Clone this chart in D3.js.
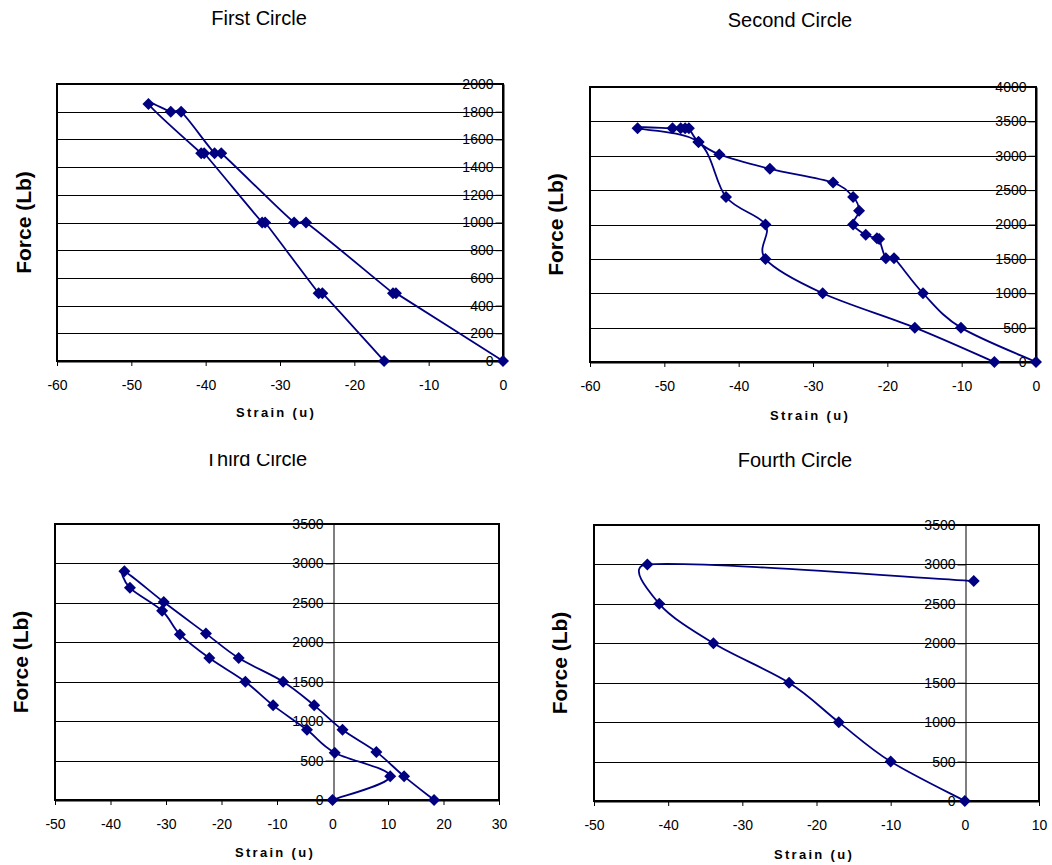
<!DOCTYPE html>
<html>
<head>
<meta charset="utf-8">
<script src="https://cdn.jsdelivr.net/npm/d3@7"></script>
<style>
  html, body { margin: 0; padding: 0; background: #fff; }
  svg { display: block; font-family: "Liberation Sans", Arial, sans-serif; }
</style>
</head>
<body>
<svg id="chart" width="1052" height="865"></svg>
<script>
// ---- Load cycle readings: strain (u) vs applied force (Lb), in recorded order ----

// First cycle
const strain1 = [0, -14.4, -14.8, -26.5, -28.1, -37.9, -38.8, -43.3, -44.7, -47.7, -40.6, -40.2, -32.4, -32.0, -24.8, -24.3, -16.0];
const force1  = [0, 490, 490, 1000, 1000, 1500, 1500, 1800, 1800, 1855, 1500, 1500, 1000, 1000, 490, 490, 0];

// Second cycle
const strain2 = [0, -10.1, -15.2, -19.1, -20.2, -21.1, -21.4, -22.9, -24.6, -23.8, -24.6, -27.3, -35.8, -42.6, -45.4, -46.7, -47.2, -47.8, -48.9, -53.6, -45.4, -41.7, -36.4, -36.4, -28.7, -16.3, -5.6];
const force2  = [0, 500, 1000, 1510, 1510, 1790, 1800, 1850, 2000, 2200, 2400, 2610, 2810, 3020, 3200, 3400, 3400, 3400, 3400, 3400, 3200, 2400, 2000, 1500, 1000, 500, 0];

// Third cycle
const strain3 = [0, 10.4, 0.4, -4.6, -10.7, -15.7, -22.2, -27.5, -30.7, -36.5, -37.5, -30.4, -22.8, -16.9, -8.9, -3.3, 1.8, 7.9, 12.9, 18.3];
const force3  = [0, 300, 600, 890, 1200, 1500, 1800, 2100, 2400, 2690, 2900, 2510, 2110, 1800, 1500, 1200, 890, 610, 300, 0];

// Fourth cycle
const strain4 = [0, -10.0, -17.0, -23.7, -33.9, -41.2, -42.8, 1.2];
const force4  = [0, 500, 1000, 1500, 2000, 2500, 3000, 2790];

// Axis ticks
const xTicks1 = [-60, -50, -40, -30, -20, -10, 0];
const yTicks1 = [0, 200, 400, 600, 800, 1000, 1200, 1400, 1600, 1800, 2000];
const xTicks2 = [-60, -50, -40, -30, -20, -10, 0];
const yTicks2 = [0, 500, 1000, 1500, 2000, 2500, 3000, 3500, 4000];
const xTicks3 = [-50, -40, -30, -20, -10, 0, 10, 20, 30];
const yTicks3 = [0, 500, 1000, 1500, 2000, 2500, 3000, 3500];
const xTicks4 = [-50, -40, -30, -20, -10, 0, 10];
const yTicks4 = [0, 500, 1000, 1500, 2000, 2500, 3000, 3500];

const titles = ["First Circle", "Second Circle", "Third Circle", "Fourth Circle"];
const xTitle = "Strain (u)";
const yTitle = "Force (Lb)";

// ---- Layout of the four chart panels ----
const panels = [
  { title: titles[0], strain: strain1, force: force1, xTicks: xTicks1, yTicks: yTicks1,
    box: { l: 57, r: 503, t: 84, b: 361 }, titleX: 259, titleY: 25, yLabX: 23, xLabX: 276, xLabY: 417 },
  { title: titles[1], strain: strain2, force: force2, xTicks: xTicks2, yTicks: yTicks2,
    box: { l: 590, r: 1036, t: 87, b: 362 }, titleX: 790, titleY: 27, yLabX: 555, xLabX: 810, xLabY: 420 },
  { title: titles[2], strain: strain3, force: force3, xTicks: xTicks3, yTicks: yTicks3,
    box: { l: 55, r: 499, t: 524, b: 800 }, titleX: 256, titleY: 466, yLabX: 20, xLabX: 275, xLabY: 857,
    titleClipTop: 454 },
  { title: titles[3], strain: strain4, force: force4, xTicks: xTicks4, yTicks: yTicks4,
    box: { l: 594, r: 1039, t: 525, b: 801 }, titleX: 795, titleY: 467, yLabX: 559, xLabX: 814, xLabY: 859 }
];

const navy = "#000080";
const svg = d3.select("#chart");
const defs = svg.append("defs");

const diamond = r => `M0,${-r}L${r},0L0,${r}L${-r},0Z`;
const crisp = v => Math.round(v) + 0.5;

// Smoothed spreadsheet-style line: Catmull-Rom tangents (1/6 of the neighbour
// chord), with each control handle capped to a share of its own segment so
// short segments next to long ones do not loop out too far.
function curveSmoothCapped(context) {
  let pts = [];
  const cap = 0.5;
  return {
    areaStart() {}, areaEnd() {},
    lineStart() { pts = []; },
    point(x, y) { pts.push([+x, +y]); },
    lineEnd() {
      const n = pts.length;
      if (!n) return;
      context.moveTo(pts[0][0], pts[0][1]);
      const tan = pts.map((p, i) => {
        const a = pts[Math.max(0, i - 1)], b = pts[Math.min(n - 1, i + 1)];
        return [(b[0] - a[0]) / 6, (b[1] - a[1]) / 6];
      });
      const limit = (t, len) => {
        const m = Math.hypot(t[0], t[1]);
        const s = m > cap * len && m > 0 ? (cap * len) / m : 1;
        return [t[0] * s, t[1] * s];
      };
      for (let i = 0; i < n - 1; i++) {
        const p0 = pts[i], p1 = pts[i + 1];
        const len = Math.hypot(p1[0] - p0[0], p1[1] - p0[1]);
        const t0 = limit(tan[i], len), t1 = limit(tan[i + 1], len);
        context.bezierCurveTo(p0[0] + t0[0], p0[1] + t0[1],
                              p1[0] - t1[0], p1[1] - t1[1],
                              p1[0], p1[1]);
      }
    }
  };
}

panels.forEach((p, i) => {
  const g = svg.append("g").attr("class", "panel-" + (i + 1));
  const x = d3.scaleLinear().domain(d3.extent(p.xTicks)).range([p.box.l, p.box.r]);
  const y = d3.scaleLinear().domain(d3.extent(p.yTicks)).range([p.box.b, p.box.t]);

  // Title
  const title = g.append("text")
    .attr("x", p.titleX).attr("y", p.titleY)
    .attr("text-anchor", "middle")
    .attr("font-size", 20)
    .attr("fill", "#000")
    .text(p.title);
  if (p.titleClipTop !== undefined) {
    const id = "title-clip-" + i;
    defs.append("clipPath").attr("id", id)
      .append("rect").attr("x", 0).attr("y", p.titleClipTop).attr("width", 526).attr("height", 40);
    title.attr("clip-path", `url(#${id})`);
  }

  // Horizontal gridlines
  g.append("g").selectAll("line")
    .data(p.yTicks.slice(1, -1))
    .join("line")
    .attr("x1", p.box.l).attr("x2", p.box.r)
    .attr("y1", d => crisp(y(d))).attr("y2", d => crisp(y(d)))
    .attr("stroke", "#000").attr("stroke-width", 1);

  // Y axis at zero strain
  const yAxis = d3.axisLeft(y)
    .tickValues(p.yTicks)
    .tickSize(8).tickSizeOuter(0).tickPadding(2)
    .tickFormat(d => String(d));
  const ya = g.append("g")
    .attr("transform", `translate(${crisp(x(0))},0)`)
    .call(yAxis);
  ya.select(".domain").attr("stroke", "#000").attr("stroke-width", 1);
  ya.selectAll(".tick line").attr("stroke", "#000");
  ya.selectAll(".tick text").attr("font-size", 14).attr("fill", "#000")
    .attr("font-family", "'Liberation Sans', Arial, sans-serif");

  // Plot frame
  g.append("rect")
    .attr("x", p.box.l).attr("y", p.box.t)
    .attr("width", p.box.r - p.box.l).attr("height", p.box.b - p.box.t)
    .attr("fill", "none").attr("stroke", "#000").attr("stroke-width", 2);

  // X axis along the bottom
  const xAxis = d3.axisBottom(x)
    .tickValues(p.xTicks)
    .tickSize(5).tickSizeOuter(0).tickPadding(14)
    .tickFormat(d => String(d));
  const xa = g.append("g")
    .attr("transform", `translate(0,${p.box.b})`)
    .call(xAxis);
  xa.select(".domain").attr("stroke", "#000").attr("stroke-width", 2);
  xa.selectAll(".tick line").attr("stroke", "#000");
  xa.selectAll(".tick text").attr("font-size", 14).attr("fill", "#000")
    .attr("font-family", "'Liberation Sans', Arial, sans-serif");

  // Axis titles
  g.append("text")
    .attr("x", p.xLabX).attr("y", p.xLabY)
    .attr("text-anchor", "middle")
    .attr("font-size", 13).attr("font-weight", "bold")
    .attr("letter-spacing", "2.3px")
    .text(xTitle);
  g.append("text")
    .attr("transform", `translate(${p.yLabX},${(p.box.t + p.box.b) / 2}) rotate(-90)`)
    .attr("text-anchor", "middle")
    .attr("dominant-baseline", "central")
    .attr("font-size", 21).attr("font-weight", "bold")
    .text(yTitle);

  // Smoothed load path with diamond markers
  const pts = p.strain.map((s, k) => [s, p.force[k]]);
  const line = d3.line()
    .x(d => x(d[0])).y(d => y(d[1]))
    .curve(curveSmoothCapped);
  g.append("path")
    .datum(pts)
    .attr("d", line)
    .attr("fill", "none").attr("stroke", navy)
    .attr("stroke-width", 1.8).attr("stroke-linejoin", "round");
  g.append("g").selectAll("path")
    .data(pts)
    .join("path")
    .attr("transform", d => `translate(${x(d[0])},${y(d[1])})`)
    .attr("d", diamond(6))
    .attr("fill", navy);
});
</script>
</body>
</html>
